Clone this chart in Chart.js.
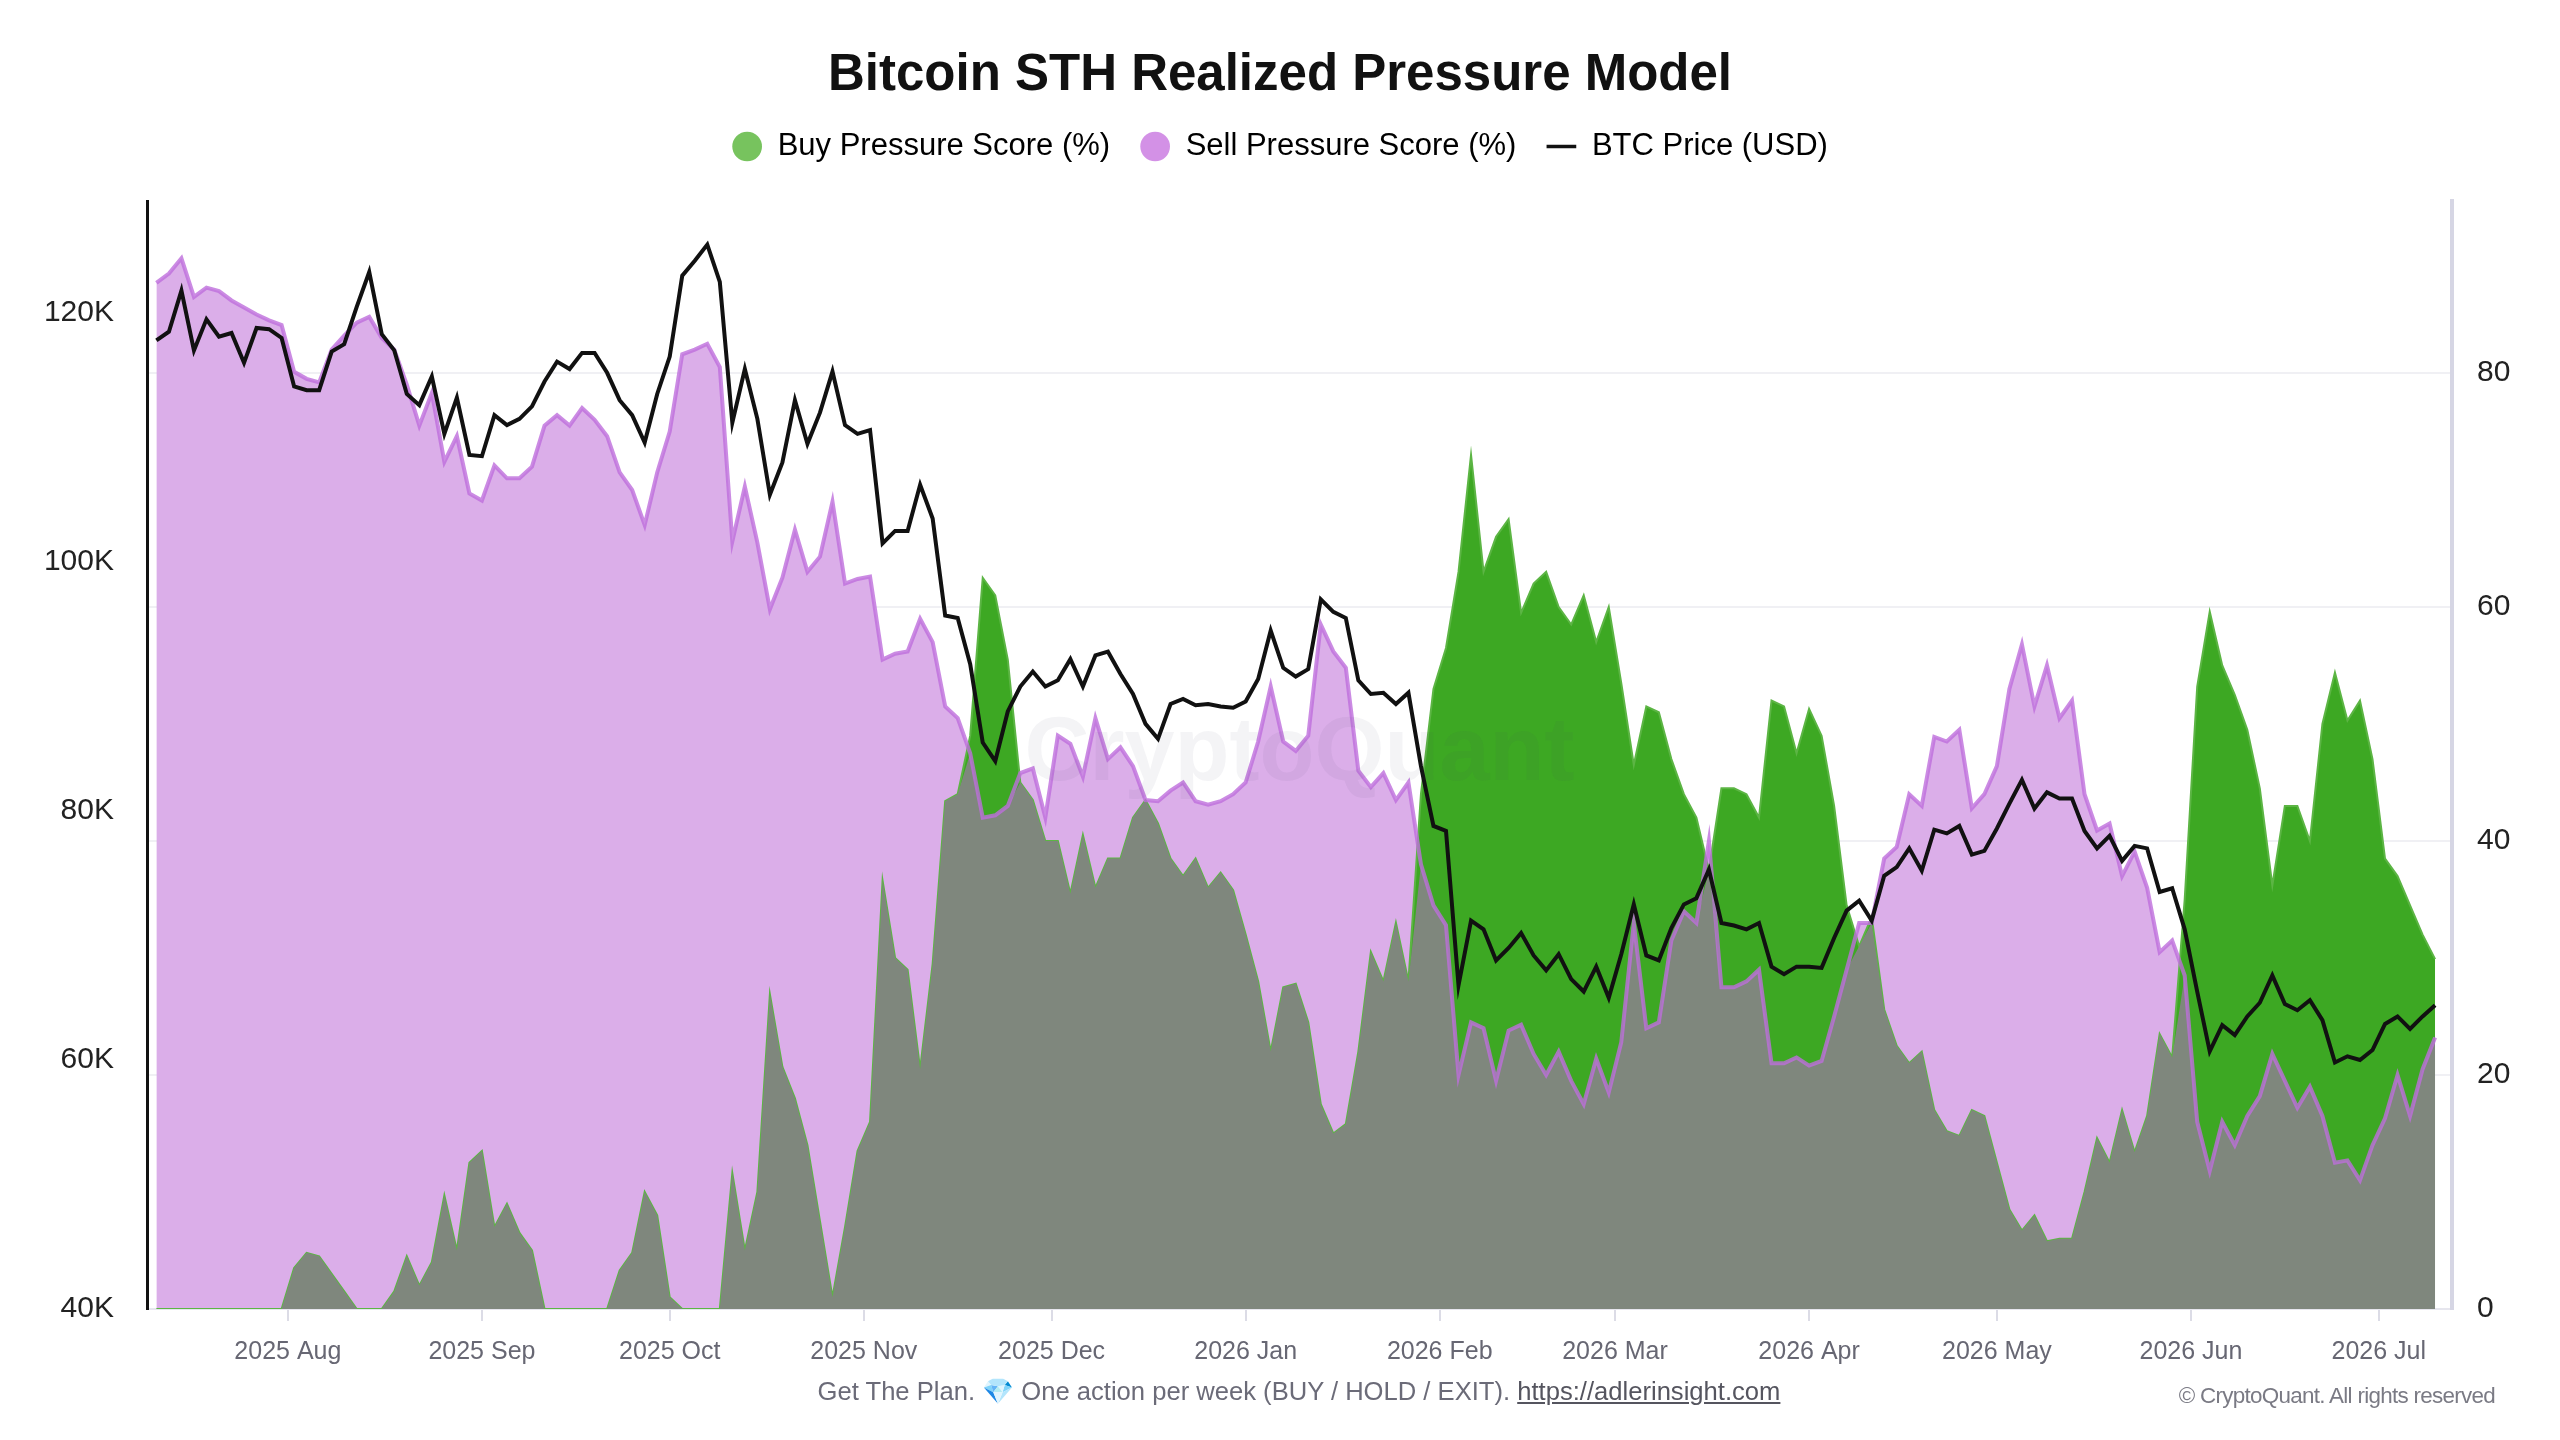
<!DOCTYPE html>
<html>
<head>
<meta charset="utf-8">
<title>Bitcoin STH Realized Pressure Model</title>
<script src="https://cdn.jsdelivr.net/npm/chart.js@4.4.1/dist/chart.umd.min.js"></script>
<style>
  html, body { margin: 0; padding: 0; background: #fff; overflow: hidden; }
  #wrap { position: relative; width: 2560px; height: 1440px; overflow: hidden; font-family: 'Liberation Sans', Arial, sans-serif; }
  #footer { position: absolute; left: 0; width: 2560px; top: 1375px; text-align: center; transform: translateX(19px); font-size: 25.6px; line-height: 32px; color: #6b6b78; }
  #footer a { color: #55555f; text-decoration: underline; }
  #copy { position: absolute; right: 65px; top: 1383px; font-size: 22.4px; line-height: 26px; color: #7a7a84; letter-spacing: -0.7px; }
</style>
</head>
<body>
<div id="wrap">
  <canvas id="pressureChart" width="2560" height="1440"></canvas>
  <div id="footer">Get The Plan. 💎 One action per week (BUY / HOLD / EXIT). <a href="https://adlerinsight.com">https://adlerinsight.com</a></div>
  <div id="copy">© CryptoQuant. All rights reserved</div>
</div>
<script>
// days since 2025-07-11, one reading every 2 days
const stepDays = 2;

// BTC price, thousands of USD
const btcPriceK = [
  117.8, 118.5, 121.8, 117.0, 119.5, 118.1, 118.4, 116.0, 118.8, 118.7,
  118.0, 114.1, 113.8, 113.8, 116.9, 117.5, 120.5, 123.3, 118.3, 117.0,
  113.5, 112.6, 114.9, 110.3, 113.2, 108.6, 108.5, 111.8, 111.0, 111.5,
  112.5, 114.5, 116.1, 115.5, 116.8, 116.8, 115.2, 113.0, 111.8, 109.6,
  113.5, 116.5, 123.0, 124.2, 125.5, 122.5, 111.2, 115.5, 111.5, 105.4,
  108.0, 113.0, 109.5, 112.0, 115.3, 111.0, 110.3, 110.6, 101.5, 102.5,
  102.5, 106.2, 103.5, 95.7, 95.5, 91.8, 85.5, 84.0, 88.0, 90.0,
  91.2, 90.0, 90.5, 92.2, 90.0, 92.5, 92.8, 91.0, 89.4, 87.0,
  85.8, 88.6, 89.0, 88.5, 88.6, 88.4, 88.3, 88.8, 90.6, 94.5,
  91.5, 90.8, 91.4, 97.0, 96.0, 95.5, 90.5, 89.4, 89.5, 88.6,
  89.5, 83.6, 78.8, 78.4, 66.0, 71.2, 70.5, 68.0, 69.0, 70.2,
  68.4, 67.2, 68.5, 66.5, 65.5, 67.5, 65.0, 68.5, 72.5, 68.4,
  68.0, 70.6, 72.5, 73.0, 75.3, 71.0, 70.8, 70.5, 71.0, 67.5,
  66.9, 67.5, 67.5, 67.4, 69.8, 72.0, 72.8, 71.2, 74.8, 75.5,
  77.0, 75.2, 78.5, 78.2, 78.8, 76.5, 76.8, 78.6, 80.6, 82.5,
  80.2, 81.5, 81.0, 81.0, 78.4, 77.0, 78.0, 76.0, 77.2, 77.0,
  73.5, 73.8, 70.5, 65.5, 60.7, 62.8, 62.0, 63.5, 64.6, 66.8,
  64.5, 64.0, 64.8, 63.2, 59.8, 60.3, 60.0, 60.8, 62.9, 63.5,
  62.5, 63.5, 64.4
];

// Buy Pressure Score (%)
const buyScore = [
  0, 0, 0, 0, 0, 0, 0, 0, 0, 0,
  0, 3.5, 4.8, 4.5, 3.0, 1.5, 0, 0, 0, 1.5,
  4.5, 2.0, 4.0, 9.7, 5.0, 12.5, 13.5, 7.0, 9.0, 6.5,
  5.0, 0, 0, 0, 0, 0, 0, 3.3, 4.8, 10.0,
  8.0, 1.0, 0, 0, 0, 0, 11.6, 5.0, 10.0, 26.9,
  20.7, 18.0, 14.0, 7.5, 1.0, 7.0, 13.5, 16.0, 36.6, 30.0,
  29.0, 20.5, 29.5, 43.4, 44.0, 49.0, 62.5, 61.0, 55.5, 45.0,
  43.5, 40.0, 40.0, 35.5, 40.5, 36.0, 38.5, 38.5, 42.0, 43.5,
  41.5, 38.5, 37.0, 38.5, 36.0, 37.3, 35.8, 32.0, 28.0, 22.0,
  27.5, 27.8, 24.5, 17.5, 15.0, 15.8, 22.0, 30.5, 28.0, 33.0,
  28.0, 44.0, 53.0, 56.5, 63.0, 73.0, 63.0, 66.0, 67.5, 59.5,
  62.0, 63.0, 60.0, 58.5, 61.0, 57.0, 60.0, 53.5, 46.5, 51.5,
  51.0, 47.0, 44.0, 42.0, 37.5, 44.5, 44.5, 44.0, 42.0, 52.0,
  51.5, 47.5, 51.3, 49.0, 43.0, 34.5, 31.0, 33.5, 25.6, 22.5,
  21.0, 22.0, 17.0, 15.2, 14.8, 17.0, 16.5, 12.5, 8.5, 6.7,
  8.0, 5.8, 6.0, 6.0, 10.0, 14.6, 12.5, 17.0, 13.4, 16.5,
  23.5, 21.5, 35.0, 53.2, 59.6, 55.0, 52.5, 49.5, 44.5, 36.2,
  43.0, 43.0, 40.0, 50.0, 54.4, 50.3, 52.0, 47.0, 38.5, 37.0,
  34.5, 32.0, 29.9
];

// Sell Pressure Score (%)
const sellScore = [
  87.7, 88.5, 89.8, 86.5, 87.3, 87.0, 86.2, 85.6, 85.0, 84.5,
  84.1, 80.1, 79.5, 79.2, 82.0, 83.2, 84.3, 84.8, 83.0, 82.0,
  79.0, 75.5, 78.3, 72.4, 74.6, 69.7, 69.1, 72.1, 71.0, 71.0,
  72.0, 75.5, 76.4, 75.5, 77.0, 76.0, 74.6, 71.5, 70.0, 67.0,
  71.5, 75.0, 81.6, 82.0, 82.5, 80.5, 65.6, 70.3, 65.5, 59.8,
  62.5, 66.6, 63.0, 64.3, 69.0, 62.0, 62.4, 62.6, 55.5, 56.0,
  56.2, 59.0, 57.0, 51.5, 50.5, 47.5, 42.0, 42.2, 43.0, 45.8,
  46.2, 42.0, 49.0, 48.3, 45.5, 50.5, 47.0, 48.0, 46.4, 43.5,
  43.4, 44.3, 45.0, 43.4, 43.1, 43.4, 44.0, 45.0, 48.5, 53.2,
  48.5, 47.7, 49.0, 58.5, 56.2, 54.8, 46.0, 44.6, 45.8, 43.5,
  45.0, 38.0, 34.5, 32.8, 20.0, 24.5, 24.0, 19.5, 23.8, 24.3,
  21.8, 20.0, 22.0, 19.5, 17.5, 21.4, 18.5, 22.8, 33.0, 24.0,
  24.5, 31.5, 34.0, 33.0, 40.0, 27.5, 27.5, 28.0, 29.0, 21.0,
  21.0, 21.5, 20.8, 21.2, 25.0, 29.0, 33.0, 33.0, 38.5, 39.5,
  44.0, 43.0, 48.9, 48.5, 49.5, 42.8, 44.0, 46.4, 53.0, 56.8,
  51.5, 55.0, 50.5, 52.0, 44.0, 40.9, 41.5, 37.0, 39.1, 36.0,
  30.5, 31.5, 28.5, 16.0, 11.8, 16.0, 14.0, 16.5, 18.2, 21.8,
  19.5, 17.2, 19.0, 16.5, 12.5, 12.7, 11.0, 14.0, 16.3, 20.0,
  16.5, 20.5, 23.2
];

// month starts, as days since 2025-07-11
const monthTickDays = [21, 52, 82, 113, 143, 174, 205, 233, 264, 294, 325, 355];
const monthTickLabels = ['2025 Aug', '2025 Sep', '2025 Oct', '2025 Nov', '2025 Dec', '2026 Jan',
  '2026 Feb', '2026 Mar', '2026 Apr', '2026 May', '2026 Jun', '2026 Jul'];

const priceTicks = [40, 60, 80, 100, 120];
const scoreTicks = [0, 20, 40, 60, 80];

const days = btcPriceK.map((_, i) => i * stepDays);
// where both scores overlap the chart shows grey
const overlapScore = buyScore.map((b, i) => Math.min(b, sellScore[i]));

const FONT = "'Liberation Sans', Arial, sans-serif";
Chart.defaults.font.family = FONT;

// extra room between legend and plot
const legendGap = {
  id: 'legendGap',
  beforeInit(chart) {
    const fit = chart.legend.fit;
    chart.legend.fit = function() {
      fit.bind(chart.legend)();
      this.height += 29;
    };
  }
};

const watermark = {
  id: 'watermark',
  afterDatasetsDraw(chart) {
    const {ctx, chartArea} = chart;
    ctx.save();
    ctx.font = 'bold 90px ' + FONT;
    ctx.fillStyle = 'rgba(60, 60, 95, 0.06)';
    ctx.textAlign = 'center';
    ctx.textBaseline = 'middle';
    ctx.fillText('CryptoQuant', (chartArea.left + chartArea.right) / 2, (chartArea.top + chartArea.bottom) / 2);
    ctx.restore();
  }
};

const lineData = {
  labels: days,
  datasets: [
    {
      label: 'BTC Price (USD)',
      data: btcPriceK,
      yAxisID: 'yPrice',
      borderColor: '#111111',
      borderWidth: 4,
      fill: false
    },
    {
      label: 'sell edge',
      data: sellScore,
      yAxisID: 'yScore',
      borderColor: 'rgba(190, 110, 220, 0.8)',
      borderWidth: 4,
      fill: false
    },
    {
      label: 'overlap',
      data: overlapScore,
      yAxisID: 'yScore',
      borderWidth: 0,
      backgroundColor: '#7f877d',
      fill: 'origin'
    },
    {
      label: 'Buy Pressure Score (%)',
      data: buyScore,
      yAxisID: 'yScore',
      borderColor: '#5cb544',
      borderWidth: 2,
      backgroundColor: '#3da823',
      fill: 'origin'
    },
    {
      label: 'Sell Pressure Score (%)',
      data: sellScore,
      yAxisID: 'yScore',
      borderWidth: 0,
      backgroundColor: '#dbaee9',
      fill: 'origin'
    }
  ]
};

const lineConfig = {
  type: 'line',
  data: lineData,
  plugins: [legendGap, watermark],
  options: {
    responsive: false,
    devicePixelRatio: 1,
    animation: false,
    layout: { padding: 0 },
    elements: {
      point: { radius: 0, hitRadius: 0 },
      line: { tension: 0 }
    },
    plugins: {
      tooltip: { enabled: false },
      title: {
        display: true,
        text: 'Bitcoin STH Realized Pressure Model',
        color: '#111111',
        font: { size: 51, weight: 'bold', lineHeight: 1.0 },
        padding: { top: 50, bottom: 0 }
      },
      legend: {
        display: true,
        labels: {
          usePointStyle: true,
          boxWidth: 30,
          boxHeight: 21,
          padding: 30,
          color: '#222222',
          font: { size: 31 },
          generateLabels: () => [
            { text: 'Buy Pressure Score (%)', fillStyle: '#77c35e', strokeStyle: '#77c35e', lineWidth: 0, pointStyle: 'circle', datasetIndex: 3 },
            { text: 'Sell Pressure Score (%)', fillStyle: '#d391e6', strokeStyle: '#d391e6', lineWidth: 0, pointStyle: 'circle', datasetIndex: 4 },
            { text: 'BTC Price (USD)', fillStyle: '#111111', strokeStyle: '#111111', lineWidth: 3.5, pointStyle: 'line', datasetIndex: 0 }
          ]
        }
      }
    },
    scales: {
      x: {
        type: 'linear',
        min: -1.5,
        max: 366.7,
        afterFit: (scale) => { scale.height = 131; },
        afterBuildTicks: (scale) => { scale.ticks = monthTickDays.map(v => ({ value: v })); },
        grid: { drawOnChartArea: false, drawTicks: true, tickLength: 12, color: '#dcdce6', lineWidth: 2 },
        border: { display: true, color: '#e6e6ee', width: 2 },
        ticks: {
          autoSkip: false,
          maxRotation: 0,
          padding: 16,
          color: '#676773',
          font: { size: 25 },
          callback: (v) => monthTickLabels[monthTickDays.indexOf(v)]
        }
      },
      yPrice: {
        type: 'linear',
        position: 'left',
        min: 40,
        max: 129.0,
        afterFit: (scale) => { scale.width = 147; },
        afterBuildTicks: (scale) => { scale.ticks = priceTicks.map(v => ({ value: v })); },
        grid: { display: false },
        border: { display: true, color: '#111111', width: 3 },
        ticks: {
          padding: 25,
          color: '#222222',
          font: { size: 30 },
          callback: (v) => v + 'K'
        }
      },
      yScore: {
        type: 'linear',
        position: 'right',
        min: 0,
        max: 94.7,
        afterFit: (scale) => { scale.width = 108; },
        afterBuildTicks: (scale) => { scale.ticks = scoreTicks.map(v => ({ value: v })); },
        grid: { drawOnChartArea: true, drawTicks: false, color: '#f0f0f4', lineWidth: 2 },
        border: { display: true, color: '#d6d6e4', width: 4 },
        ticks: {
          padding: 25,
          color: '#222222',
          font: { size: 30 }
        }
      }
    }
  }
};

var chart_area = document.getElementById('pressureChart');
var myPressureChart = new Chart(chart_area, lineConfig);
</script>
</body>
</html>
